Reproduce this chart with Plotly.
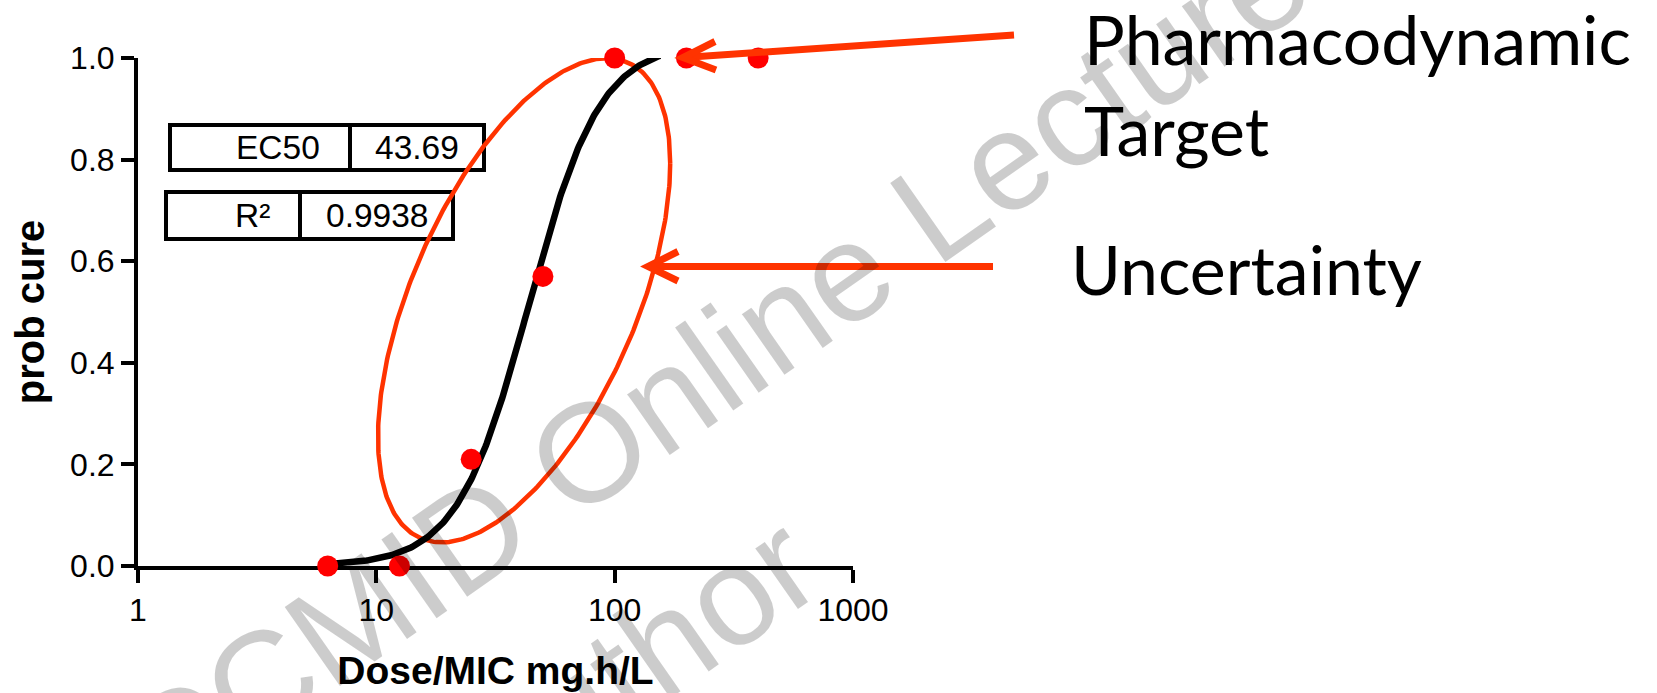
import numpy as np
import plotly.graph_objects as go

# Observed probability of cure at each exposure level
dose_mic = [6.25, 12.5, 25, 50, 100, 200, 400]
prob_cure = [0.0, 0.0, 0.21, 0.57, 1.0, 1.0, 1.0]

# Sigmoid Emax (Hill) fit, bottom fixed at 0
EC50 = 43.69
R_SQUARED = 0.9938
HILL_SLOPE = 2.9
FIT_TOP = 1.03
CURVE_DOSE_MIN = 6.25
CURVE_DOSE_MAX = 155.0

# Uncertainty region, described in (log10 dose, probability) space
ELLIPSE_CENTER_LOG = 1.620
ELLIPSE_CENTER_PROB = 0.523
ELLIPSE_LOG_HALF_WIDTH = 0.613
ELLIPSE_TILT = 0.2695
ELLIPSE_PROB_SPREAD = 0.393

x_tick_values = [1, 10, 100, 1000]
x_tick_labels = ["1", "10", "100", "1000"]
y_tick_values = [0.0, 0.2, 0.4, 0.6, 0.8, 1.0]
y_tick_labels = ["0.0", "0.2", "0.4", "0.6", "0.8", "1.0"]

# ---- page geometry (pixels) ----
W, H = 1657, 693
ML, MR, MT, MB = 138, 804, 58, 127
PW = W - ML - MR
PH = H - MT - MB


def px(x):
    return (x - ML) / PW


def py(y):
    return (H - MB - y) / PH


RED = "#FF0000"
ORANGE = "#FF3300"
ARIAL = "Liberation Sans, Arial, sans-serif"
SLIDE = "Lato, Carlito, Calibri, sans-serif"

# fitted curve
curve_x = np.logspace(np.log10(CURVE_DOSE_MIN), np.log10(CURVE_DOSE_MAX), 300)
curve_y = FIT_TOP * curve_x ** HILL_SLOPE / (EC50 ** HILL_SLOPE + curve_x ** HILL_SLOPE)

# uncertainty ellipse
t = np.linspace(0, 2 * np.pi, 400)
ell_log = ELLIPSE_CENTER_LOG + ELLIPSE_LOG_HALF_WIDTH * np.cos(t)
ell_prob = ELLIPSE_CENTER_PROB + ELLIPSE_TILT * np.cos(t) + ELLIPSE_PROB_SPREAD * np.sin(t)
ell_x = 10 ** ell_log

fig = go.Figure()
fig.add_trace(go.Scatter(x=ell_x, y=ell_prob, mode="lines",
                         line=dict(color=ORANGE, width=4.5), cliponaxis=False,
                         hoverinfo="skip"))
fig.add_trace(go.Scatter(x=curve_x, y=curve_y, mode="lines",
                         line=dict(color="black", width=6.5), cliponaxis=False,
                         hoverinfo="skip"))
fig.add_trace(go.Scatter(x=dose_mic, y=prob_cure, mode="markers",
                         marker=dict(color=RED, size=21, line=dict(width=0)),
                         cliponaxis=False))

shapes = []
annotations = []

# results table (two boxed rows)
table_rows = [
    ("EC50", f"{EC50:.2f}", 170, 350, 484, 125, 170),
    ("R²", f"{R_SQUARED:.4f}", 166, 300, 453, 192, 239),
]
for label, value, x0, xm, x1, y0, y1 in table_rows:
    shapes.append(dict(type="rect", xref="paper", yref="paper",
                       x0=px(x0), x1=px(x1), y0=py(y0), y1=py(y1),
                       line=dict(color="black", width=4), fillcolor="white",
                       layer="below"))
    shapes.append(dict(type="line", xref="paper", yref="paper",
                       x0=px(xm), x1=px(xm), y0=py(y0), y1=py(y1),
                       line=dict(color="black", width=4), layer="below"))
    annotations.append(dict(xref="paper", yref="paper", x=px(xm - 28), y=py((y0 + y1) / 2),
                            text=label, showarrow=False, xanchor="right", yanchor="middle",
                            font=dict(family=ARIAL, size=33.5, color="black")))
    annotations.append(dict(xref="paper", yref="paper", x=px((xm + x1) / 2), y=py((y0 + y1) / 2),
                            text=value, showarrow=False, xanchor="center", yanchor="middle",
                            font=dict(family=ARIAL, size=33.5, color="black")))

# callout arrows
arrow_style = dict(color=ORANGE, width=7)
shapes.append(dict(type="line", xref="paper", yref="paper",
                   x0=px(1014), y0=py(35), x1=px(684), y1=py(57.5), line=arrow_style))
shapes.append(dict(type="path", xref="paper", yref="paper",
                   path=f"M {px(715)},{py(41.5)} L {px(683)},{py(57.5)} L {px(716)},{py(70)}",
                   line=arrow_style))
shapes.append(dict(type="line", xref="paper", yref="paper",
                   x0=px(993), y0=py(266.5), x1=px(650), y1=py(266.5), line=arrow_style))
shapes.append(dict(type="path", xref="paper", yref="paper",
                   path=f"M {px(678)},{py(251.5)} L {px(648)},{py(266.5)} L {px(678)},{py(281)}",
                   line=arrow_style))

# slide captions
for txt, x, y in [("Pharmacodynamic", 1082, 38), ("Target", 1082, 129), ("Uncertainty", 1069, 268)]:
    annotations.append(dict(xref="paper", yref="paper", x=px(x), y=py(y), text=txt,
                            showarrow=False, xanchor="left", yanchor="middle",
                            font=dict(family=SLIDE, size=68, color="black")))

# watermark
WM_FONT = dict(family=ARIAL, size=140, color="rgba(0,0,0,0.2)")
annotations.append(dict(xref="paper", yref="paper", x=px(676), y=py(392),
                        text="ECCMID Online Lecture", showarrow=False, textangle=-35,
                        xanchor="center", yanchor="middle", font=WM_FONT))
annotations.append(dict(xref="paper", yref="paper", x=px(631), y=py(666),
                        text="Author", showarrow=False, textangle=-35,
                        xanchor="center", yanchor="middle", font=WM_FONT))

axis_font = dict(family=ARIAL, size=32, color="black")

fig.update_layout(
    width=W, height=H,
    margin=dict(l=ML, r=MR, t=MT, b=MB, pad=0, autoexpand=False),
    paper_bgcolor="white", plot_bgcolor="white",
    showlegend=False, hovermode=False,
    shapes=shapes, annotations=annotations,
    xaxis=dict(type="log", range=[0, 3], tickvals=x_tick_values, ticktext=x_tick_labels,
               ticks="outside", ticklen=13, tickwidth=4, tickcolor="black",
               showline=True, linewidth=4, linecolor="black", showgrid=False,
               zeroline=False, tickfont=axis_font, layer="below traces",
               automargin=False,
               title=dict(text="Dose/MIC mg.h/L", standoff=30,
                          font=dict(family=ARIAL, size=39, color="black", weight="bold"))),
    yaxis=dict(range=[0, 1], tickvals=y_tick_values, ticktext=y_tick_labels,
               ticks="outside", ticklen=13, tickwidth=4, tickcolor="black",
               showline=True, linewidth=4, linecolor="black", showgrid=False,
               zeroline=False, tickfont=axis_font, layer="below traces",
               automargin=False,
               title=dict(text="prob cure", standoff=14,
                          font=dict(family=ARIAL, size=40, color="black", weight="bold"))),
)

fig.write_html("out.html")
